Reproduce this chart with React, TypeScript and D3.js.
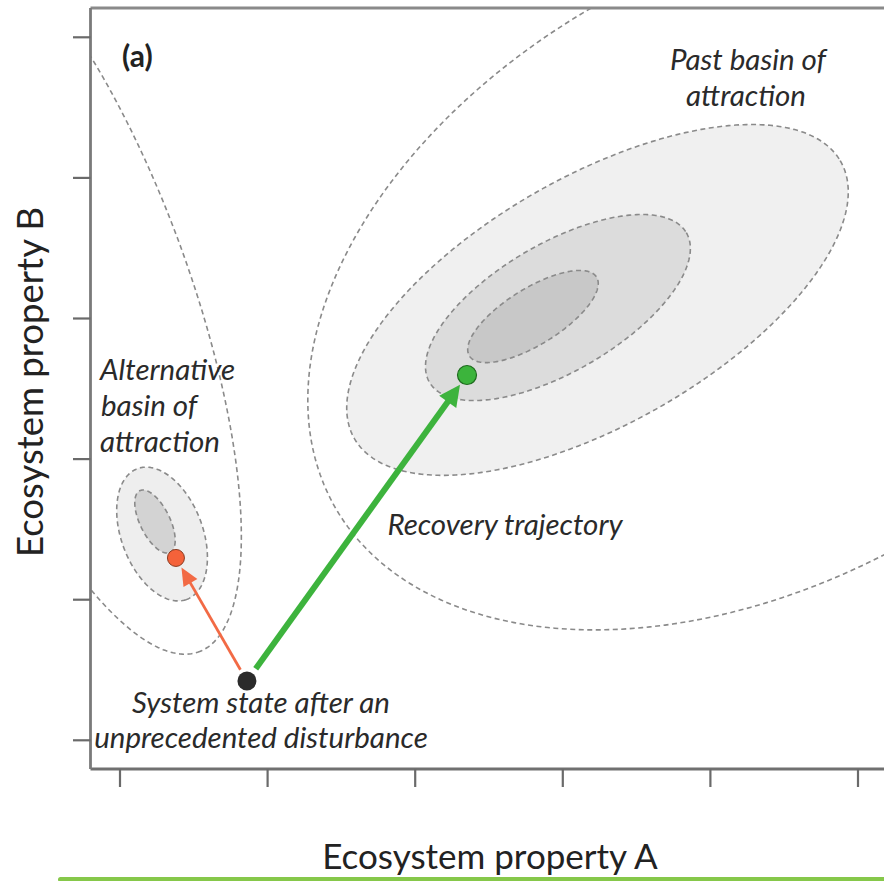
import React from "react";
import * as d3 from "d3";

const WIDTH = 884;
const HEIGHT = 881;

// Axis ticks (unlabelled) for both ecosystem properties
const xTicks = [1, 2, 3, 4, 5, 6];
const yTicks = [1, 2, 3, 4, 5, 6];

// Basin contours: centre (cx, cy), semi-axes (rx, ry) in data units, tilt in degrees.
// Ordered from the outermost contour to the innermost.
const pastBasinRings = [
  { cx: 5.3, cy: 4.33, rx: 3.3, ry: 2.18, angle: 32 },
  { cx: 4.235, cy: 4.132, rx: 1.92, ry: 0.87, angle: 31.5 },
  { cx: 3.967, cy: 4.078, rx: 1.02, ry: 0.45, angle: 32 },
  { cx: 3.798, cy: 4.014, rx: 0.514, ry: 0.197, angle: 33.5 },
];
const altBasinRings = [
  { cx: 0.634, cy: 4.217, rx: 2.74, ry: 0.83, angle: -71 },
  { cx: 1.285, cy: 2.467, rx: 0.494, ry: 0.277, angle: -71 },
  { cx: 1.237, cy: 2.556, rx: 0.242, ry: 0.102, angle: -65.4 },
];
const pastRingFills = ["none", "#f0f0f0", "#dcdcdc", "#c8c8c8"];
const altRingFills = ["none", "#eeeeee", "#d3d3d3"];

// System states
const disturbedState = { x: 1.86, y: 1.422 };
const alternativeState = { x: 1.379, y: 2.297 };
const recoveredState = { x: 3.351, y: 3.598 };

const xScale = d3.scaleLinear().domain([1, 6]).range([120, 858]);
const yScale = d3.scaleLinear().domain([1, 6]).range([740.3, 37.3]);

const plot = { left: 90.5, top: 8, right: 900, bottom: 769 };

type Ring = { cx: number; cy: number; rx: number; ry: number; angle: number };

function ringPath(r: Ring): string {
  const a = (r.angle * Math.PI) / 180;
  const pts: [number, number][] = d3.range(0, 360, 1).map((deg) => {
    const t = (deg * Math.PI) / 180;
    const u = r.rx * Math.cos(t);
    const v = r.ry * Math.sin(t);
    return [
      xScale(r.cx + u * Math.cos(a) - v * Math.sin(a)),
      yScale(r.cy + u * Math.sin(a) + v * Math.cos(a)),
    ];
  });
  return d3.line().curve(d3.curveLinearClosed)(pts) || "";
}

function arrow(
  from: { x: number; y: number },
  to: { x: number; y: number },
  startGap: number,
  endGap: number,
  headLen: number,
  headHalf: number
) {
  const x0 = xScale(from.x);
  const y0 = yScale(from.y);
  const x1 = xScale(to.x);
  const y1 = yScale(to.y);
  const dx = x1 - x0;
  const dy = y1 - y0;
  const len = Math.hypot(dx, dy);
  const ux = dx / len;
  const uy = dy / len;
  const sx = x0 + ux * startGap;
  const sy = y0 + uy * startGap;
  const tx = x1 - ux * endGap;
  const ty = y1 - uy * endGap;
  const bx = tx - ux * headLen;
  const by = ty - uy * headLen;
  const head = `M${tx},${ty}L${bx - uy * headHalf},${by + ux * headHalf}L${bx + uy * headHalf},${by - ux * headHalf}Z`;
  return { sx, sy, ex: bx + ux * 2, ey: by + uy * 2, head };
}

export default function App() {
  const dash = "5 3.5";
  const ringStroke = "#8a8a8a";
  const redArrow = arrow(disturbedState, alternativeState, 13, 11, 18, 8);
  const greenArrow = arrow(disturbedState, recoveredState, 15, 12, 21, 10.5);
  const italic = { fontFamily: "Lato, 'Open Sans', sans-serif", fontStyle: "italic" as const, fontSize: 29.5, fill: "#2a2a2a" };
  const axisFont = { fontFamily: "Lato, 'Open Sans', sans-serif", fill: "#222" };

  return (
    <svg
      width={WIDTH}
      height={HEIGHT}
      viewBox={`0 0 ${WIDTH} ${HEIGHT}`}
      style={{ position: "absolute", left: 0, top: 0, background: "#fff" }}
    >
      <defs>
        <clipPath id="plot-clip">
          <rect x={plot.left} y={plot.top} width={plot.right - plot.left} height={plot.bottom - plot.top} />
        </clipPath>
      </defs>

      <g clipPath="url(#plot-clip)">
        {pastBasinRings.map((r, i) => (
          <path key={`p${i}`} d={ringPath(r)} fill={pastRingFills[i]} stroke={ringStroke} strokeWidth={1.6} strokeDasharray={dash} />
        ))}
        {altBasinRings.map((r, i) => (
          <path key={`a${i}`} d={ringPath(r)} fill={altRingFills[i]} stroke={ringStroke} strokeWidth={1.6} strokeDasharray={dash} />
        ))}
      </g>

      {/* frame */}
      <line x1={plot.left} x2={plot.right} y1={plot.top} y2={plot.top} stroke="#8a8a8a" strokeWidth={3} />
      <line x1={plot.left} x2={plot.right} y1={plot.bottom} y2={plot.bottom} stroke="#707070" strokeWidth={2.8} />
      <line x1={plot.left} x2={plot.left} y1={plot.top} y2={plot.bottom} stroke="#7a7a7a" strokeWidth={2.8} />

      {yTicks.map((t) => (
        <line key={`yt${t}`} x1={73} x2={plot.left} y1={yScale(t)} y2={yScale(t)} stroke="#6a6a6a" strokeWidth={2.2} />
      ))}
      {xTicks.map((t) => (
        <line key={`xt${t}`} x1={xScale(t)} x2={xScale(t)} y1={plot.bottom} y2={787} stroke="#6a6a6a" strokeWidth={2.2} />
      ))}

      {/* trajectories */}
      <line x1={redArrow.sx} y1={redArrow.sy} x2={redArrow.ex} y2={redArrow.ey} stroke="#f26a45" strokeWidth={2.8} />
      <path d={redArrow.head} fill="#f26a45" />
      <line x1={greenArrow.sx} y1={greenArrow.sy} x2={greenArrow.ex} y2={greenArrow.ey} stroke="#3db33d" strokeWidth={6} />
      <path d={greenArrow.head} fill="#3db33d" />

      {/* states */}
      <circle cx={xScale(disturbedState.x)} cy={yScale(disturbedState.y)} r={9.5} fill="#2b2b2b" />
      <circle cx={xScale(alternativeState.x)} cy={yScale(alternativeState.y)} r={8.5} fill="#f4623a" stroke="#8a3a20" strokeWidth={1} />
      <circle cx={xScale(recoveredState.x)} cy={yScale(recoveredState.y)} r={9.5} fill="#3cb43c" stroke="#1f6a1f" strokeWidth={1.2} />

      {/* annotations */}
      <text x={122} y={67} style={{ fontFamily: "Lato, sans-serif", fontWeight: 700, fontSize: 30, fill: "#222" }}>(a)</text>
      <text x={748} y={70} textAnchor="middle" style={italic}>Past basin of</text>
      <text x={746} y={106} textAnchor="middle" style={italic}>attraction</text>
      <text x={100} y={380} style={italic}>Alternative</text>
      <text x={101} y={416} style={italic}>basin of</text>
      <text x={100} y={452} style={italic}>attraction</text>
      <text x={505} y={535} textAnchor="middle" style={italic}>Recovery trajectory</text>
      <text x={261} y={713} textAnchor="middle" style={italic}>System state after an</text>
      <text x={261} y={748} textAnchor="middle" style={italic}>unprecedented disturbance</text>

      {/* axis titles */}
      <text x={490} y={869} textAnchor="middle" style={{ ...axisFont, fontSize: 35 }}>Ecosystem property A</text>
      <text transform="translate(43,382) rotate(-90)" textAnchor="middle" style={{ ...axisFont, fontSize: 36.5 }}>Ecosystem property B</text>

      <rect x={58} y={877} width={840} height={5} rx={2.5} fill="#86c84a" />
    </svg>
  );
}
